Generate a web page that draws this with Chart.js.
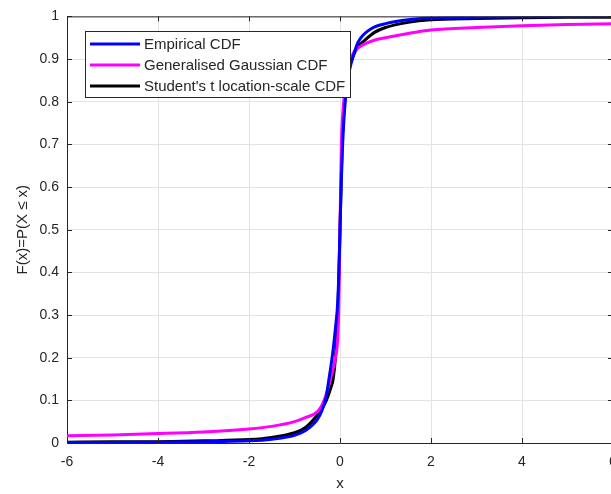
<!DOCTYPE html>
<html>
<head>
<meta charset="utf-8">
<script src="https://cdn.jsdelivr.net/npm/chart.js@4.4.1/dist/chart.umd.min.js"></script>
<style>
html,body{margin:0;padding:0;overflow:hidden;background:#fff;width:611px;height:494px;}
canvas{position:absolute;left:0;top:0;}
</style>
</head>
<body>
<canvas id="c" width="700" height="494"></canvas>
<script>
// ---- data ----
const xTicks = [-6, -4, -2, 0, 2, 4, 6];
const yTicks = [0, 0.1, 0.2, 0.3, 0.4, 0.5, 0.6, 0.7, 0.8, 0.9, 1];
const seriesNames = ["Empirical CDF", "Generalised Gaussian CDF", "Student's t location-scale CDF"];

const empX = [-6, -5, -4, -3, -2, -1.5, -1, -0.75, -0.5, -0.4, -0.3, -0.25, -0.2, -0.15, -0.1, -0.05, -0.025, 0, 0.025, 0.05, 0.1, 0.15, 0.2, 0.3, 0.4, 0.5, 0.6, 0.75, 1, 1.5, 2, 3, 4, 5, 6];
const empY = [0.001, 0.001, 0.002, 0.003, 0.005, 0.009, 0.018, 0.03, 0.055, 0.075, 0.11, 0.145, 0.18, 0.22, 0.27, 0.33, 0.40, 0.5, 0.60, 0.68, 0.78, 0.835, 0.87, 0.91, 0.94, 0.955, 0.965, 0.975, 0.983, 0.992, 0.996, 0.998, 0.999, 0.9995, 1.0];

const ggX = [-6, -5, -4, -3, -2, -1.5, -1, -0.75, -0.5, -0.4, -0.3, -0.22, -0.15, -0.1, -0.06, -0.03, 0, 0.03, 0.06, 0.1, 0.15, 0.2, 0.3, 0.4, 0.5, 0.75, 1, 1.5, 2, 3, 4, 5, 6];
const ggY = [0.017, 0.019, 0.022, 0.026, 0.033, 0.039, 0.050, 0.060, 0.073, 0.088, 0.115, 0.147, 0.175, 0.20, 0.23, 0.30, 0.5, 0.70, 0.77, 0.82, 0.86, 0.89, 0.915, 0.926, 0.933, 0.944, 0.950, 0.960, 0.968, 0.974, 0.978, 0.981, 0.983];

const tX = [-6, -5, -4, -3, -2, -1.5, -1, -0.75, -0.5, -0.4, -0.3, -0.2, -0.15, -0.1, -0.05, -0.025, 0, 0.025, 0.05, 0.1, 0.15, 0.2, 0.3, 0.4, 0.5, 0.75, 1, 1.5, 2, 3, 4, 5, 6];
const tY = [0.002, 0.003, 0.003, 0.005, 0.008, 0.013, 0.024, 0.037, 0.065, 0.08, 0.10, 0.13, 0.15, 0.20, 0.30, 0.39, 0.5, 0.61, 0.71, 0.80, 0.85, 0.88, 0.91, 0.93, 0.94, 0.962, 0.974, 0.986, 0.992, 0.995, 0.997, 0.998, 0.998];

const toPts = (xs, ys) => xs.map((x, i) => ({x: x, y: ys[i]}));

const TXT = '#262626';
const FONT = 'Liberation Sans, Arial, Helvetica, sans-serif';
const W = 700;
const PLOT_L = 67, PLOT_R = 613, PLOT_T = 15, PLOT_B = 443;

const colors = ['#0000ff', '#ff00ff', '#000000'];

const legendPlugin = {
  id: 'matlabBox',
  afterDatasetsDraw(chart) {
    const ctx = chart.ctx;
    const a = chart.chartArea;
    const xs = chart.scales.x, ys = chart.scales.y;
    ctx.save();
    ctx.strokeStyle = TXT;
    ctx.lineWidth = 1;
    ctx.beginPath();
    ctx.moveTo(a.left, a.top + 0.5); ctx.lineTo(a.right, a.top + 0.5);
    ctx.stroke();
    ctx.beginPath();
    xTicks.forEach(v => {
      const px = Math.round(xs.getPixelForValue(v)) + 0.5;
      ctx.moveTo(px, a.bottom); ctx.lineTo(px, a.bottom - 5);
      ctx.moveTo(px, a.top); ctx.lineTo(px, a.top + 5);
    });
    yTicks.forEach(v => {
      const py = Math.round(ys.getPixelForValue(v)) + 0.5;
      ctx.moveTo(a.left, py); ctx.lineTo(a.left + 5, py);
      ctx.moveTo(a.right, py); ctx.lineTo(a.right - 5, py);
    });
    ctx.stroke();

    // legend
    const bx = 85.5, by = 31.5, bw = 265, bh = 66;
    ctx.fillStyle = '#ffffff';
    ctx.fillRect(bx, by, bw, bh);
    ctx.strokeStyle = TXT;
    ctx.lineWidth = 1;
    ctx.strokeRect(bx, by, bw, bh);
    const rows = [44, 65, 86];
    ctx.font = '15px ' + FONT;
    ctx.textBaseline = 'middle';
    ctx.textAlign = 'left';
    chart.data.datasets.forEach((ds, i) => {
      ctx.strokeStyle = ds.borderColor;
      ctx.lineWidth = 3;
      ctx.beginPath();
      ctx.moveTo(90, rows[i]); ctx.lineTo(140, rows[i]);
      ctx.stroke();
      ctx.fillStyle = TXT;
      ctx.fillText(ds.label, 144, rows[i] + 0.5);
    });
    ctx.restore();
  }
};

new Chart(document.getElementById('c'), {
  type: 'line',
  data: {
    datasets: [
      {label: seriesNames[0], data: toPts(empX, empY), borderColor: colors[0], borderWidth: 3, pointRadius: 0, fill: false, cubicInterpolationMode: 'monotone'},
      {label: seriesNames[1], data: toPts(ggX, ggY), borderColor: colors[1], borderWidth: 3, pointRadius: 0, fill: false, cubicInterpolationMode: 'monotone'},
      {label: seriesNames[2], data: toPts(tX, tY), borderColor: colors[2], borderWidth: 3, pointRadius: 0, fill: false, cubicInterpolationMode: 'monotone'}
    ]
  },
  options: {
    responsive: false,
    animation: false,
    devicePixelRatio: 1,
    layout: {padding: {top: PLOT_T, right: W - PLOT_R, left: 0, bottom: 0}},
    plugins: {legend: {display: false}, tooltip: {enabled: false}},
    scales: {
      x: {
        type: 'linear', min: -6, max: 6,
        afterBuildTicks: s => { s.ticks = xTicks.map(v => ({value: v})); },
        afterFit: s => { s.height = 494 - PLOT_B; },
        ticks: {color: TXT, font: {family: FONT, size: 14}, padding: 11, maxRotation: 0, callback: v => String(v)},
        grid: {color: '#e3e3e3', drawTicks: false, lineWidth: 1},
        border: {display: true, color: TXT, width: 1},
        title: {display: true, text: 'x', color: TXT, font: {family: FONT, size: 15}, padding: {top: 0, bottom: 1}}
      },
      y: {
        type: 'linear', min: 0, max: 1,
        afterBuildTicks: s => { s.ticks = yTicks.map(v => ({value: v})); },
        afterFit: s => { s.width = PLOT_L; },
        ticks: {color: TXT, font: {family: FONT, size: 14}, padding: 8, callback: v => String(v)},
        grid: {color: '#e3e3e3', drawTicks: false, lineWidth: 1},
        border: {display: true, color: TXT, width: 1},
        title: {display: true, text: 'F(x)=P(X ≤ x)', color: TXT, font: {family: FONT, size: 15}, padding: {top: 14, bottom: 0}}
      }
    }
  },
  plugins: [legendPlugin]
});
</script>
</body>
</html>
